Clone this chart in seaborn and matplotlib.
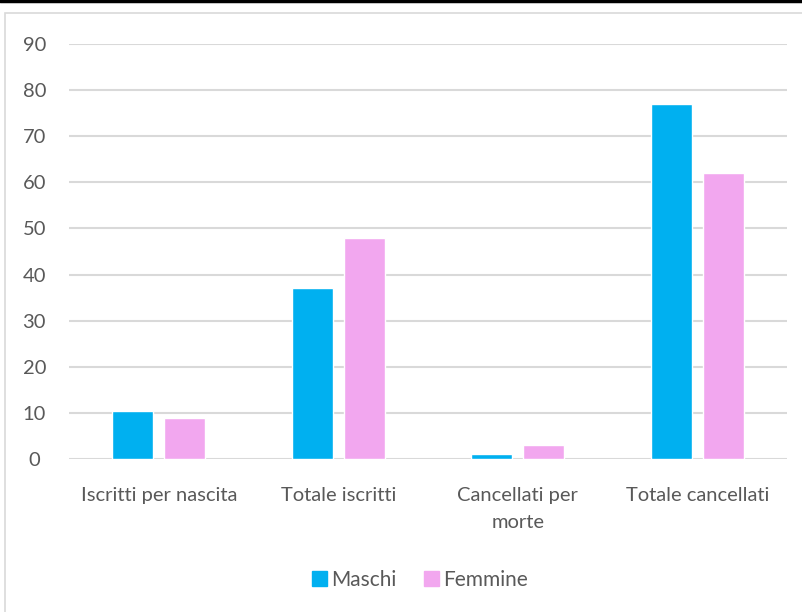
import matplotlib
matplotlib.use("Agg")
import matplotlib.pyplot as plt
import seaborn as sns
import pandas as pd
from matplotlib.patches import Rectangle
from matplotlib.lines import Line2D

categories = ["Iscritti per nascita", "Totale iscritti", "Cancellati per\nmorte", "Totale cancellati"]
maschi = [10.4, 37, 1, 77]
femmine = [9, 48, 3, 62]
series = ["Maschi", "Femmine"]
colors = ["#00B0F0", "#F2A7EF"]
yticks = [0, 10, 20, 30, 40, 50, 60, 70, 80, 90]

df = pd.DataFrame({
    "cat": categories * 2,
    "val": maschi + femmine,
    "serie": [series[0]] * 4 + [series[1]] * 4,
})

sns.set_theme(style="white")
plt.rcParams["font.family"] = ["Lato", "DejaVu Sans"]

fig = plt.figure(figsize=(8.03, 6.12), dpi=100)
ax = fig.add_axes([69/803, 1-459/612, 718/803, 415/612])

sns.barplot(data=df, x="cat", y="val", hue="serie", palette=colors,
            width=0.578, gap=0.21, ax=ax, legend=False, saturation=1)

ax.set_ylim(0, 90)
ax.set_yticks(yticks)
ax.set_xlim(-0.5, 3.5)
ax.grid(axis="y", color="#d9d9d9", linewidth=1.5)
ax.set_axisbelow(True)
for s in ax.spines.values():
    s.set_visible(False)
ax.set_xlabel("")
ax.set_ylabel("")
ax.tick_params(axis="both", length=0, colors="#595959", labelsize=14.5)
ax.tick_params(axis="y", pad=25)
ax.tick_params(axis="x", pad=20)
for lab in ax.get_yticklabels():
    lab.set_horizontalalignment("center")
for lab in ax.get_xticklabels():
    lab.set_linespacing(1.75)

handles = [Rectangle((0, 0), 1, 1, color=c) for c in colors]
fig.legend(handles, series, loc="center", bbox_to_anchor=(420/803, 1-580/612),
           ncol=2, frameon=False, fontsize=15, labelcolor="#595959",
           handlelength=0.75, handleheight=0.75, handletextpad=0.2, columnspacing=1.3)

fig.patches.append(Rectangle((5/803, -0.01), 1.0, 1-13/612+0.01, transform=fig.transFigure,
                             fill=False, edgecolor="#d9d9d9", linewidth=1.2))
fig.lines.append(Line2D([0, 1], [1-1/612, 1-1/612], transform=fig.transFigure,
                        color="black", linewidth=2.5))

fig.savefig("out.png", dpi=100)
